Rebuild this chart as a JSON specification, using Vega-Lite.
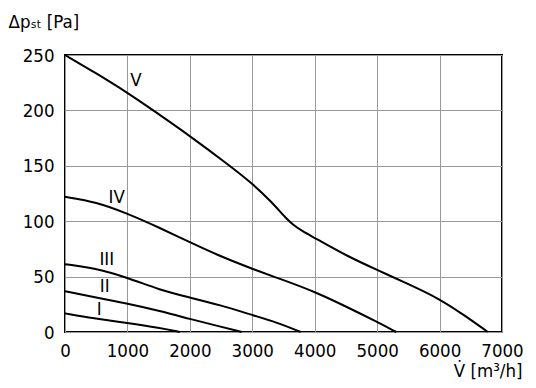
{
  "$schema": "https://vega.github.io/schema/vega-lite/v6.json",
  "autosize": {"type": "none"},
  "width": 437,
  "height": 277,
  "padding": {"left": 65, "top": 55, "right": 34, "bottom": 56},
  "background": "white",
  "config": {
    "view": {"stroke": "black", "strokeWidth": 2},
    "font": "DejaVu Sans Condensed, Liberation Sans Narrow, sans-serif"
  },
  "datasets": {
    "curves": [
      {"curve": "V", "x": 0, "y": 250}, {"curve": "V", "x": 500, "y": 233.5}, {"curve": "V", "x": 1000, "y": 216}, {"curve": "V", "x": 1413, "y": 200}, {"curve": "V", "x": 2000, "y": 177}, {"curve": "V", "x": 2640, "y": 150}, {"curve": "V", "x": 3000, "y": 134}, {"curve": "V", "x": 3300, "y": 118}, {"curve": "V", "x": 3550, "y": 102}, {"curve": "V", "x": 3650, "y": 97}, {"curve": "V", "x": 3800, "y": 91}, {"curve": "V", "x": 4000, "y": 85}, {"curve": "V", "x": 4500, "y": 69}, {"curve": "V", "x": 5000, "y": 56}, {"curve": "V", "x": 5500, "y": 43.3}, {"curve": "V", "x": 6000, "y": 30}, {"curve": "V", "x": 6427, "y": 14}, {"curve": "V", "x": 6773, "y": 0},
      {"curve": "IV", "x": 0, "y": 122}, {"curve": "IV", "x": 500, "y": 117.5}, {"curve": "IV", "x": 1000, "y": 107}, {"curve": "IV", "x": 1500, "y": 94.5}, {"curve": "IV", "x": 2000, "y": 81}, {"curve": "IV", "x": 2500, "y": 68}, {"curve": "IV", "x": 3000, "y": 57}, {"curve": "IV", "x": 3500, "y": 46.8}, {"curve": "IV", "x": 4000, "y": 36.4}, {"curve": "IV", "x": 4560, "y": 21.4}, {"curve": "IV", "x": 4992, "y": 9.3}, {"curve": "IV", "x": 5307, "y": 0},
      {"curve": "III", "x": 0, "y": 61.2}, {"curve": "III", "x": 453, "y": 58}, {"curve": "III", "x": 1000, "y": 49.2}, {"curve": "III", "x": 1520, "y": 37.9}, {"curve": "III", "x": 2000, "y": 31.1}, {"curve": "III", "x": 2480, "y": 24.4}, {"curve": "III", "x": 3000, "y": 15.3}, {"curve": "III", "x": 3400, "y": 8.5}, {"curve": "III", "x": 3775, "y": 0},
      {"curve": "II", "x": 0, "y": 36.7}, {"curve": "II", "x": 500, "y": 31.2}, {"curve": "II", "x": 1000, "y": 25.6}, {"curve": "II", "x": 1520, "y": 19}, {"curve": "II", "x": 2000, "y": 11.8}, {"curve": "II", "x": 2480, "y": 5}, {"curve": "II", "x": 2830, "y": 0},
      {"curve": "I", "x": 0, "y": 16.8}, {"curve": "I", "x": 453, "y": 12.3}, {"curve": "I", "x": 1000, "y": 8.1}, {"curve": "I", "x": 1520, "y": 3.6}, {"curve": "I", "x": 1840, "y": 0}
    ],
    "labels": [
      {"label": "V", "x": 1136, "y": 227},
      {"label": "IV", "x": 827, "y": 122},
      {"label": "III", "x": 670, "y": 65.5},
      {"label": "II", "x": 635, "y": 41.5},
      {"label": "I", "x": 547, "y": 20.5}
    ]
  },
  "layer": [
    {
      "data": {"name": "curves"},
      "mark": {"type": "line", "interpolate": "basis", "color": "black", "strokeWidth": 2},
      "encoding": {
        "x": {
          "field": "x", "type": "quantitative",
          "scale": {"domain": [0, 7000], "nice": false},
          "axis": {
            "values": [0, 1000, 2000, 3000, 4000, 5000, 6000, 7000],
            "format": "d",
            "grid": true, "gridColor": "#999999", "gridWidth": 1, "gridOpacity": 1,
            "domain": false, "ticks": false,
            "labelFont": "DejaVu Sans Condensed, Liberation Sans Narrow, sans-serif", "labelFontSize": 18.5, "labelColor": "black", "labelPadding": 9,
            "labelFlush": false, "labelOverlap": false,
            "title": "V\u0307 [m\u00b3/h]",
            "titleFont": "DejaVu Sans Condensed, Liberation Sans Narrow, sans-serif", "titleFontSize": 18.5, "titleFontWeight": "normal", "titleColor": "black",
            "titleX": 457, "titleY": 44, "titleAlign": "right", "titleBaseline": "alphabetic", "titleAnchor": null
          }
        },
        "y": {
          "field": "y", "type": "quantitative",
          "scale": {"domain": [0, 250], "nice": false},
          "axis": {
            "values": [0, 50, 100, 150, 200, 250],
            "format": "d",
            "grid": true, "gridColor": "#999999", "gridWidth": 1, "gridOpacity": 1,
            "domain": false, "ticks": false,
            "labelFont": "DejaVu Sans Condensed, Liberation Sans Narrow, sans-serif", "labelFontSize": 18.5, "labelColor": "black", "labelPadding": 11,
            "labelFlush": false, "labelOverlap": false,
            "title": "\u0394p\u209b\u209c [Pa]",
            "titleFont": "DejaVu Sans Condensed, Liberation Sans Narrow, sans-serif", "titleFontSize": 18.5, "titleFontWeight": "normal", "titleColor": "black",
            "titleAngle": 0, "titleX": -57, "titleY": -28, "titleAlign": "left", "titleBaseline": "alphabetic"
          }
        },
        "detail": {"field": "curve"}
      }
    },
    {
      "data": {"name": "labels"},
      "mark": {"type": "text", "font": "DejaVu Sans Condensed, Liberation Sans Narrow, sans-serif", "fontSize": 18.5, "color": "black", "align": "center", "baseline": "middle"},
      "encoding": {
        "x": {"field": "x", "type": "quantitative"},
        "y": {"field": "y", "type": "quantitative"},
        "text": {"field": "label"}
      }
    }
  ]
}
